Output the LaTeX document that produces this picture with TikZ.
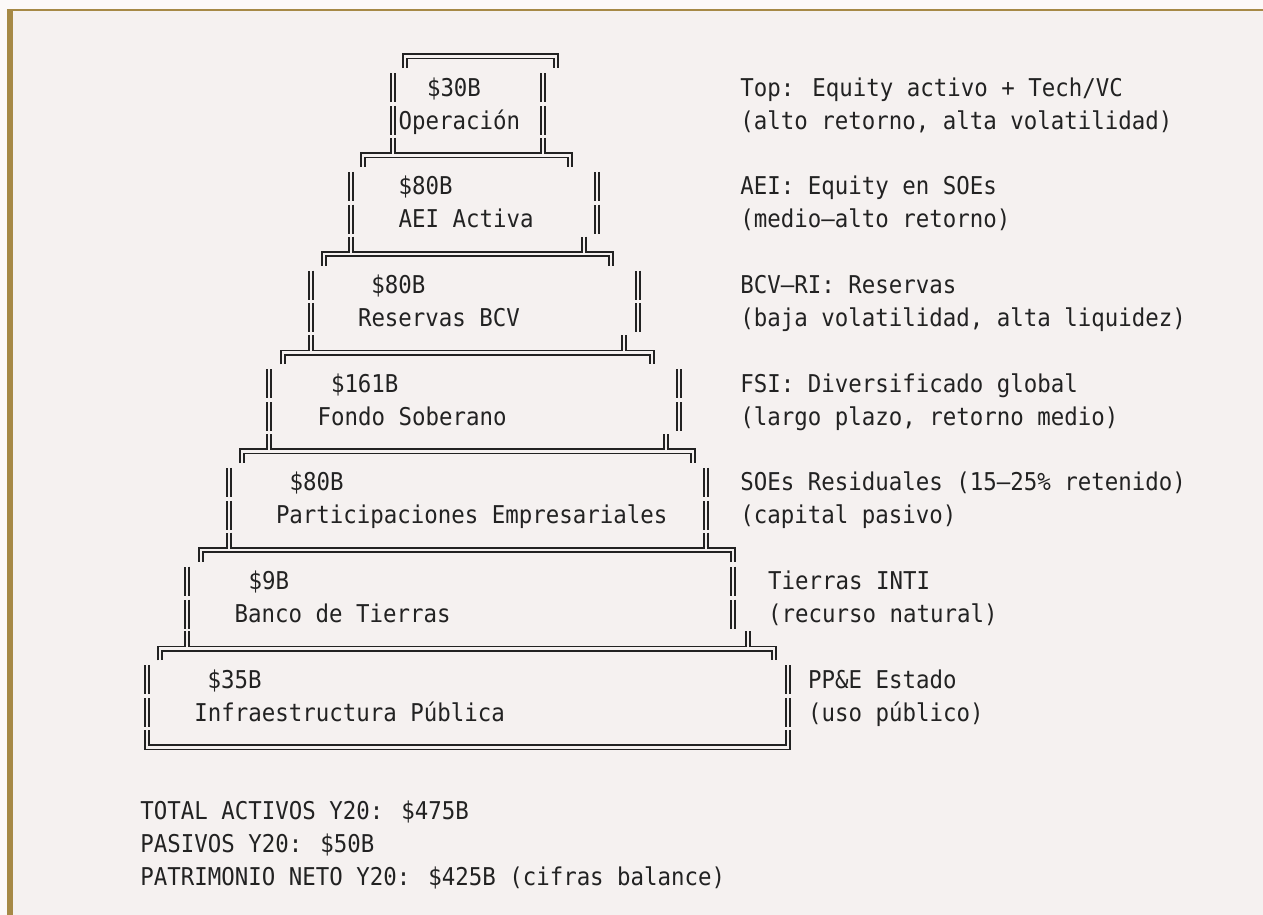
\documentclass[tikz,border=0pt]{standalone}
\usepackage{fontspec}
\newfontfamily\codefont[FakeStretch=0.915]{DejaVu Sans Mono}
\definecolor{pagebg}{RGB}{252,249,248}
\definecolor{panelbg}{RGB}{245,241,240}
\definecolor{barbrown}{RGB}{166,137,70}
\definecolor{ink}{RGB}{34,34,34}

\tikzset{
  dbl/.style={draw=ink, line width=1.6pt, double=panelbg, double distance=2.8pt},
  txt/.style={anchor=base west, inner sep=0pt, text=ink, font=\codefont\fontsize{24.5}{29}\selectfont},
}

\begin{document}
\begin{tikzpicture}[x=1pt, y=-1pt, declare function={rowy(\r)=54.2+32.9*\r;}]
\useasboundingbox (0,0) rectangle (1263,915);
% frame
\fill[pagebg] (0,0) rectangle (1263,915);
\fill[panelbg] (7,9) rectangle (1263,915);
\fill[barbrown] (7,9) rectangle (13,915);
\fill[barbrown] (7,9) rectangle (1263,11);

% walls of each tier: first row, left x, right x
\foreach \r/\xl/\xr in {1/393/543, 4/351/597, 7/311/638, 10/269/679, 13/229/706, 16/187/733, 19/147/788} {
  \foreach \s in {0,1} {
    \draw[dbl] (\xl,{rowy(\r+\s)-14}) -- (\xl,{rowy(\r+\s)+15});
    \draw[dbl] (\xr,{rowy(\r+\s)-14}) -- (\xr,{rowy(\r+\s)+15});
  }
}

% top cap
\draw[dbl] (405,{rowy(0)+14}) -- (405,{rowy(0)+2.3}) -- (556,{rowy(0)+2.3}) -- (556,{rowy(0)+14});

% steps: row, corner left, corner right, leg left, leg right
\foreach \r/\cl/\cr/\ul/\ur in {3/363/570/393/543, 6/324/611/351/584, 9/283/652/311/624, 12/242/693/269/666, 15/201/733/229/706, 18/160/774/187/748} {
  \draw[dbl] (\cl,{rowy(\r)+14}) -- (\cl,{rowy(\r)+2.3}) -- (\cr,{rowy(\r)+2.3}) -- (\cr,{rowy(\r)+14});
  \draw[dbl] (\ul,{rowy(\r)-15}) -- (\ul,{rowy(\r)+0.9});
  \draw[dbl] (\ur,{rowy(\r)-15}) -- (\ur,{rowy(\r)+0.9});
}

% base
\draw[dbl] (147,{rowy(21)-15}) -- (147,{rowy(21)+2.3}) -- (788,{rowy(21)+2.3}) -- (788,{rowy(21)-15});

% tier texts
\node[txt] (amtop) at (426.8,{rowy(1)+9}) {\$30B};
\node[txt] (lblop) at (398.5,{rowy(2)+9}) {Operación};
\node[txt] (amtaei) at (398.5,{rowy(4)+9}) {\$80B};
\node[txt] (lblaei) at (398.5,{rowy(5)+9}) {AEI Activa};
\node[txt] (amtbcv) at (371.2,{rowy(7)+9}) {\$80B};
\node[txt] (lblbcv) at (357.8,{rowy(8)+9}) {Reservas BCV};
\node[txt] (amtfsi) at (330.8,{rowy(10)+9}) {\$161B};
\node[txt] (lblfsi) at (317.5,{rowy(11)+9}) {Fondo Soberano};
\node[txt] (amtsoe) at (289.5,{rowy(13)+9}) {\$80B};
\node[txt] (lblsoe) at (275.8,{rowy(14)+9}) {Participaciones Empresariales};
\node[txt] (amtinti) at (248.5,{rowy(16)+9}) {\$9B};
\node[txt] (lblinti) at (234.5,{rowy(17)+9}) {Banco de Tierras};
\node[txt] (amtppe) at (207.5,{rowy(19)+9}) {\$35B};
\node[txt] (lblppe) at (194.2,{rowy(20)+9}) {Infraestructura Pública};

% notes on the right
\node[txt] (noteop) at (740.2,{rowy(1)+9}) {Top: Equity activo + Tech/VC};
\node[txt] (noteopb) at (740.2,{rowy(2)+9}) {(alto retorno, alta volatilidad)};
\node[txt] (noteaei) at (740.2,{rowy(4)+9}) {AEI: Equity en SOEs};
\node[txt] (noteaeib) at (740.2,{rowy(5)+9}) {(medio–alto retorno)};
\node[txt] (notebcv) at (740.2,{rowy(7)+9}) {BCV–RI: Reservas};
\node[txt] (notebcvb) at (740.2,{rowy(8)+9}) {(baja volatilidad, alta liquidez)};
\node[txt] (notefsi) at (740.2,{rowy(10)+9}) {FSI: Diversificado global};
\node[txt] (notefsib) at (740.2,{rowy(11)+9}) {(largo plazo, retorno medio)};
\node[txt] (notesoe) at (740.2,{rowy(13)+9}) {SOEs Residuales (15–25\% retenido)};
\node[txt] (notesoeb) at (740.2,{rowy(14)+9}) {(capital pasivo)};
\node[txt] (noteinti) at (768,{rowy(16)+9}) {Tierras INTI};
\node[txt] (noteintib) at (768,{rowy(17)+9}) {(recurso natural)};
\node[txt] (noteppe) at (808,{rowy(19)+9}) {PP\&E Estado};
\node[txt] (noteppeb) at (808,{rowy(20)+9}) {(uso público)};

% totals
\node[txt] (total) at (140.2,{rowy(23)+9}) {TOTAL ACTIVOS Y20: \$475B};
\node[txt] (pasivos) at (140.2,{rowy(24)+9}) {PASIVOS Y20: \$50B};
\node[txt] (neto) at (140.2,{rowy(25)+9}) {PATRIMONIO NETO Y20: \$425B (cifras balance)};
\end{tikzpicture}
\end{document}
